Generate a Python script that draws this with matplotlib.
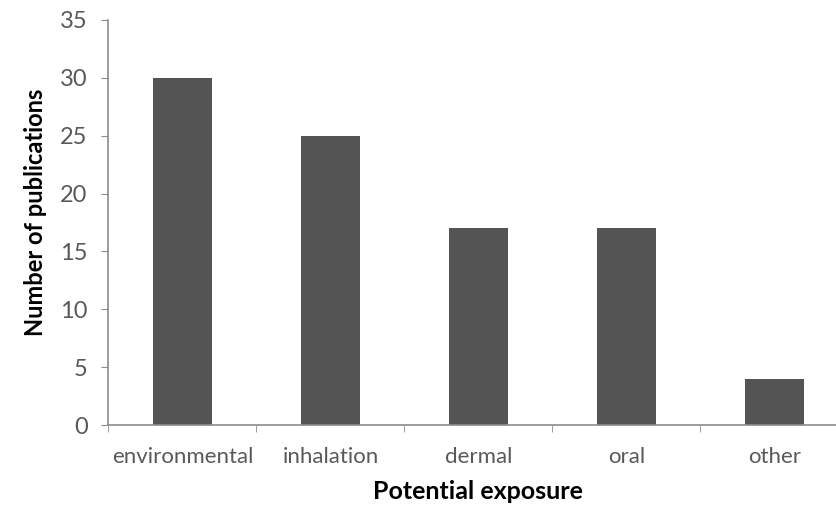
import matplotlib
matplotlib.use('Agg')
import matplotlib.pyplot as plt

plt.rcParams['font.family'] = ['Lato', 'DejaVu Sans']

# data
categories = ['environmental', 'inhalation', 'dermal', 'oral', 'other']
publications = [30, 25, 17, 17, 4]

fig = plt.figure(figsize=(8.37, 5.09), dpi=100)
ax = fig.add_axes([108.5 / 837, (509 - 425) / 509, 740 / 837, 405 / 509])

x = range(len(categories))
ax.bar(x, publications, width=0.4, color='#545454')

ax.set_xlim(-0.5, len(categories) - 0.5)
ax.set_ylim(0, 35)
ax.set_yticks(range(0, 36, 5))
ax.set_xticks(x)
ax.set_xticklabels(categories)
ax.set_xticks([i - 0.5 for i in range(len(categories) + 1)], minor=True)

for s in ['top', 'right']:
    ax.spines[s].set_visible(False)
for s in ['left', 'bottom']:
    ax.spines[s].set_color('#8c8c8c')
    ax.spines[s].set_linewidth(1.2)

ax.tick_params(axis='y', length=5, color='#8c8c8c', labelsize=17, labelcolor='#595959', pad=10)
ax.tick_params(axis='x', which='major', length=0, labelsize=16, labelcolor='#595959', pad=16)
ax.tick_params(axis='x', which='minor', length=5, color='#8c8c8c')

ax.set_ylabel('Number of publications', fontsize=17, fontweight='bold')
ax.yaxis.set_label_coords(-(108.5 - 47) / 740, (425 - 212) / 405)
ax.set_xlabel('Potential exposure', fontsize=18, fontweight='bold')
ax.xaxis.set_label_coords((478 - 108.5) / 740, -(480 - 425) / 405)

plt.savefig('out.png', dpi=100, facecolor='white')
plt.close()
